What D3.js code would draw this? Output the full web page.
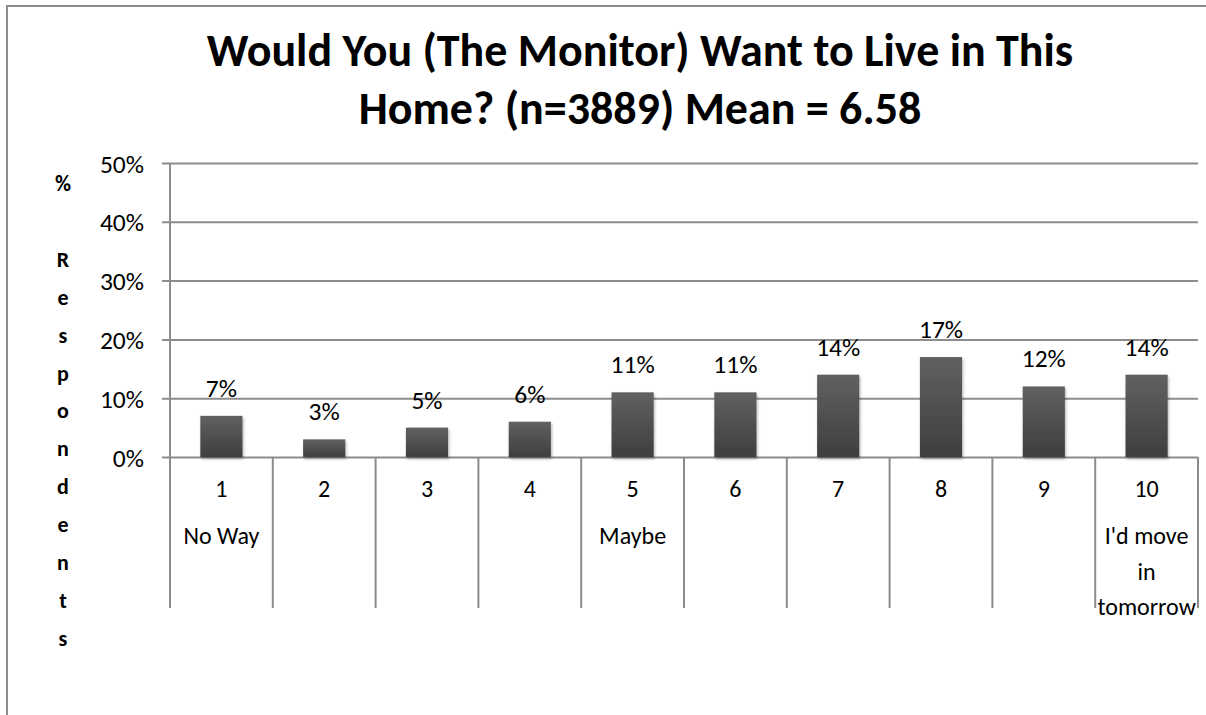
<!DOCTYPE html>
<html>
<head>
<meta charset="utf-8">
<script src="https://cdn.jsdelivr.net/npm/d3@7"></script>
<style>
  body { margin: 0; background: #fff; }
  svg text { font-family: Carlito, Lato, "Open Sans", sans-serif; fill: #000; }
</style>
</head>
<body>
<svg id="chart" width="1206" height="715"></svg>
<script>
const categories = ["1", "2", "3", "4", "5", "6", "7", "8", "9", "10"]
const descriptions = [["No Way"], [], [], [], ["Maybe"], [], [], [], [], ["I'd move", "in", "tomorrow"]]
const values = [7, 3, 5, 6, 11, 11, 14, 17, 12, 14]
const yTicks = [0, 10, 20, 30, 40, 50]
const titleLines = ["Would You (The Monitor) Want to Live in This", "Home? (n=3889) Mean = 6.58"]
const yTitle = "% Respondents"

const svg = d3.select("#chart")
const plot = {left: 170, right: 1198, top: 163, bottom: 457, boxBottom: 608}
const grey = "#8c8c8c"

// outer chart border (runs off the right/bottom edge like the original)
svg.append("rect").attr("x", 7).attr("y", 6).attr("width", 1220).attr("height", 730)
  .attr("fill", "#fff").attr("stroke", grey).attr("stroke-width", 2)

const defs = svg.append("defs")
const grad = defs.append("linearGradient").attr("id", "barGrad")
  .attr("x1", 0).attr("y1", 0).attr("x2", 0).attr("y2", 1)
grad.append("stop").attr("offset", "0%").attr("stop-color", "#616161")
grad.append("stop").attr("offset", "100%").attr("stop-color", "#3e3e3e")
const shadow = defs.append("filter").attr("id", "shadow")
  .attr("x", "-20%").attr("y", "-20%").attr("width", "150%").attr("height", "150%")
shadow.append("feDropShadow").attr("dx", 1).attr("dy", 2).attr("stdDeviation", 1.5)
  .attr("flood-color", "#000").attr("flood-opacity", 0.3)

const x = d3.scaleBand().domain(categories).range([plot.left, plot.right]).padding(0)
const y = d3.scaleLinear().domain([0, 50]).range([plot.bottom, plot.top])

// gridlines + y tick marks
const yAxis = d3.axisLeft(y).tickValues(yTicks).tickSize(-(plot.right - plot.left) - 8)
  .tickFormat(d => d + "%")
const gy = svg.append("g").attr("transform", `translate(${plot.left - 8},0)`).call(yAxis)
gy.select(".domain").remove()
gy.selectAll(".tick line").attr("stroke", grey).attr("stroke-width", 2).attr("x1", 0)
  .attr("x2", plot.right - plot.left + 8)
gy.selectAll(".tick text").attr("x", -18).attr("dy", "0.36em")
  .style("font-size", "25.5px").style("font-family", "Carlito, Lato, sans-serif")

// vertical axis line + category box separators
svg.append("line").attr("x1", plot.left).attr("x2", plot.left)
  .attr("y1", plot.top).attr("y2", plot.boxBottom).attr("stroke", grey).attr("stroke-width", 2)
const seps = categories.slice(1).map(c => x(c)).concat([plot.right])
svg.append("g").selectAll("line").data(seps).enter().append("line")
  .attr("x1", d => d).attr("x2", d => d)
  .attr("y1", plot.bottom).attr("y2", plot.boxBottom)
  .attr("stroke", grey).attr("stroke-width", 2)

// bars
const barW = x.bandwidth() * 0.41
svg.append("g").selectAll("rect").data(values).enter().append("rect")
  .attr("x", (d, i) => x(categories[i]) + (x.bandwidth() - barW) / 2)
  .attr("y", d => y(d))
  .attr("width", barW)
  .attr("height", d => y(0) - y(d))
  .attr("fill", "url(#barGrad)")
  .attr("filter", "url(#shadow)")

// value labels
svg.append("g").selectAll("text").data(values).enter().append("text")
  .attr("x", (d, i) => x(categories[i]) + x.bandwidth() / 2)
  .attr("y", d => y(d) - 19)
  .attr("text-anchor", "middle")
  .style("font-size", "25.5px")
  .text(d => d + "%")

// category labels
const cat = svg.append("g").selectAll("g").data(categories).enter().append("g")
  .attr("transform", d => `translate(${x(d) + x.bandwidth() / 2},0)`)
cat.append("text").attr("y", 497).attr("text-anchor", "middle")
  .style("font-size", "24px").text(d => d)
cat.each(function(d, i) {
  d3.select(this).selectAll("text.desc").data(descriptions[i]).enter().append("text")
    .attr("class", "desc")
    .attr("y", (t, j) => 544 + j * 35.5)
    .attr("text-anchor", "middle")
    .style("font-size", "24px")
    .text(t => t)
})

// title
svg.append("g").selectAll("text").data(titleLines).enter().append("text")
  .attr("x", 640).attr("y", (d, i) => 66 + i * 58)
  .attr("text-anchor", "middle")
  .style("font-size", "46px").style("font-weight", "700")
  .text(d => d)

// stacked y-axis title
svg.append("g").selectAll("text").data(yTitle.split("")).enter().append("text")
  .attr("x", 63).attr("y", (d, i) => 191 + i * 37.9)
  .attr("text-anchor", "middle")
  .style("font-size", "22px").style("font-weight", "700")
  .text(d => d)
</script>
</body>
</html>
